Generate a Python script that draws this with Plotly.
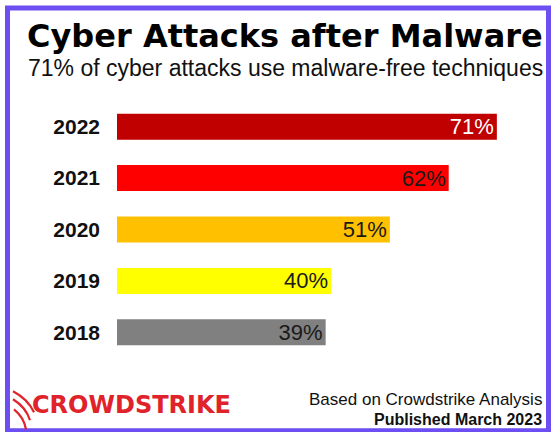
import plotly.graph_objects as go

# ---- data ----
years = ["2018", "2019", "2020", "2021", "2022"]
values = [39, 40, 51, 62, 71]
bar_colors = ["#808080", "#FFFF00", "#FFC000", "#FF0000", "#C00000"]
label_colors = ["#1a1a1a", "#1a1a1a", "#1a1a1a", "#1a1a1a", "#FFFFFF"]
labels = [f"{v}%" for v in values]

title_text = "Cyber Attacks after Malware"
subtitle_text = "71% of cyber attacks use malware-free techniques"
logo_text = "CROWDSTRIKE"
source_text = "Based on Crowdstrike Analysis"
published_text = "Published March 2023"

# ---- layout geometry (pixels) ----
W_FIG, H_FIG = 553, 432
L, W = 117, 428
T, H = 100.6, 257.1
B = H_FIG - T - H
R = W_FIG - L - W


def px(xp):
    return (xp - L) / W


def py(yp):
    return (T + H - yp) / H


ARIAL = "Liberation Sans, Arial, Helvetica, sans-serif"
DEJAVU = "DejaVu Sans, Verdana, sans-serif"

fig = go.Figure(
    go.Bar(
        x=values,
        y=years,
        orientation="h",
        marker=dict(color=bar_colors, line=dict(width=0)),
        text=labels,
        textposition="inside",
        insidetextanchor="end",
        textangle=0,
        constraintext="none",
        textfont=dict(family=ARIAL, size=22, color=label_colors),
        hoverinfo="skip",
    )
)

fig.update_layout(
    width=W_FIG,
    height=H_FIG,
    autosize=False,
    margin=dict(l=L, r=R, t=T, b=B, pad=0),
    paper_bgcolor="white",
    plot_bgcolor="white",
    showlegend=False,
    bargap=0.494,
    xaxis=dict(
        range=[0, 80],
        visible=False,
        showgrid=False,
        zeroline=False,
        fixedrange=True,
    ),
    yaxis=dict(
        type="category",
        categoryorder="array",
        categoryarray=years,
        showgrid=False,
        zeroline=False,
        showline=False,
        ticks="",
        ticklabelstandoff=16,
        tickfont=dict(family=ARIAL, size=21, color="#111111", weight="bold"),
        fixedrange=True,
    ),
)

annotations = [
    dict(text=title_text, x=px(285), y=py(36), xanchor="center", yanchor="middle",
         font=dict(family=DEJAVU, size=32, color="#000000", weight="bold")),
    dict(text=subtitle_text, x=px(285), y=py(67.5), xanchor="center", yanchor="middle",
         font=dict(family=ARIAL, size=23, color="#111111")),
    dict(text=logo_text, x=px(131), y=py(405), xanchor="center", yanchor="middle",
         font=dict(family=DEJAVU, size=24, color="#E0232B", weight="bold")),
    dict(text=source_text, x=px(543.5), y=py(399), xanchor="right", yanchor="middle",
         font=dict(family=ARIAL, size=17, color="#111111")),
    dict(text=published_text, x=px(543.5), y=py(419.5), xanchor="right", yanchor="middle",
         font=dict(family=ARIAL, size=16, color="#111111", weight="bold")),
]
for a in annotations:
    a.update(xref="paper", yref="paper", showarrow=False)
fig.update_layout(annotations=annotations)


def qpath(p0, c, p1):
    return (f"M {px(p0[0])},{py(p0[1])} Q {px(c[0])},{py(c[1])} {px(p1[0])},{py(p1[1])}")


shapes = [
    # purple frame
    dict(type="rect", xref="paper", yref="paper",
         x0=px(7.5), x1=px(548.5), y0=py(430.5), y1=py(7.5),
         line=dict(color="#6C4EF2", width=5), fillcolor="rgba(0,0,0,0)", layer="above"),
]
for p0, c, p1 in [((13, 391), (28, 399), (34, 412)),
                  ((13, 399), (26, 407), (30, 420)),
                  ((14, 409), (24, 417), (26, 429))]:
    shapes.append(dict(type="path", xref="paper", yref="paper", path=qpath(p0, c, p1),
                       line=dict(color="#E0232B", width=2.2)))
fig.update_layout(shapes=shapes)

fig.write_html(
    "out.html",
    config={"displayModeBar": False, "staticPlot": True},
    post_script="document.body.style.margin='0';document.body.style.overflow='hidden';",
)
